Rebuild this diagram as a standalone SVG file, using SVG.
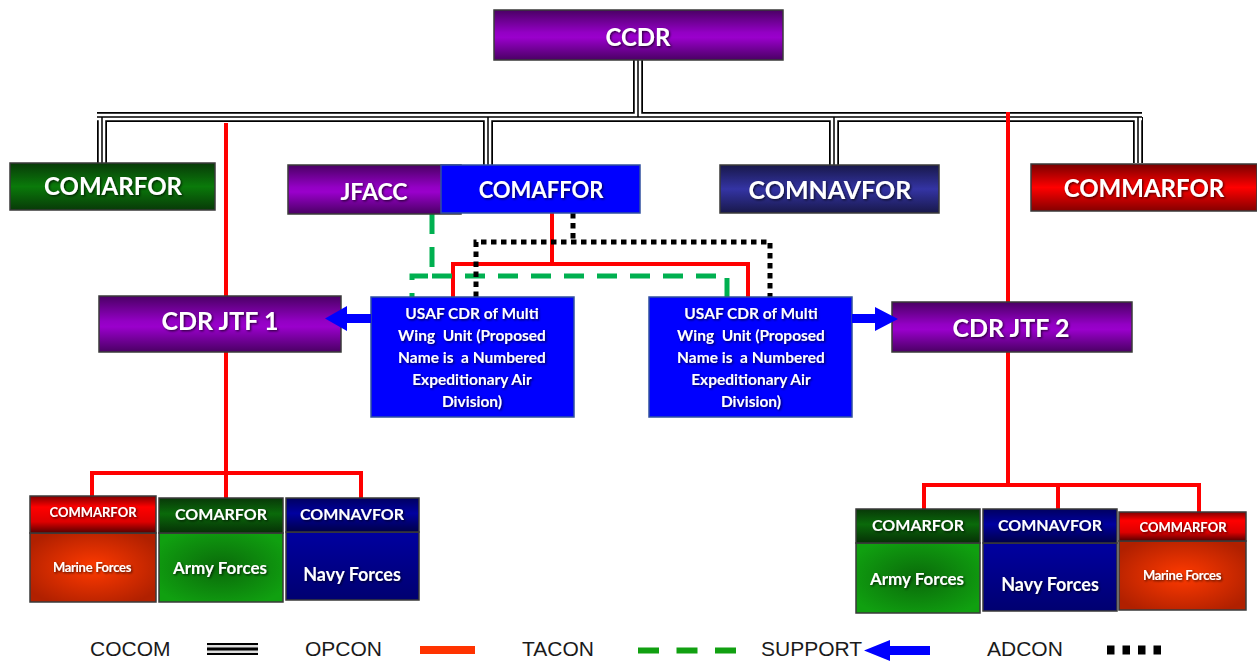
<svg xmlns="http://www.w3.org/2000/svg" xmlns:xlink="http://www.w3.org/1999/xlink" width="1257" height="662" viewBox="0 0 1257 662">
<defs>
<linearGradient id="gPurple" x1="0" y1="0" x2="0" y2="1">
<stop offset="0" stop-color="#4a0064"/><stop offset="0.45" stop-color="#9300c4"/><stop offset="0.55" stop-color="#9a00cc"/><stop offset="1" stop-color="#4a0064"/>
</linearGradient>
<linearGradient id="gGreen" x1="0" y1="0" x2="0" y2="1">
<stop offset="0" stop-color="#083a08"/><stop offset="0.5" stop-color="#0a7a0a"/><stop offset="1" stop-color="#083a08"/>
</linearGradient>
<linearGradient id="gNavy" x1="0" y1="0" x2="0" y2="1">
<stop offset="0" stop-color="#18184a"/><stop offset="0.5" stop-color="#3434a4"/><stop offset="1" stop-color="#18184a"/>
</linearGradient>
<linearGradient id="gRed" x1="0" y1="0" x2="0" y2="1">
<stop offset="0" stop-color="#780000"/><stop offset="0.5" stop-color="#ff0000"/><stop offset="1" stop-color="#840000"/>
</linearGradient>
<linearGradient id="hRed" x1="0" y1="0" x2="0" y2="1">
<stop offset="0" stop-color="#800000"/><stop offset="0.3" stop-color="#ff0000"/><stop offset="0.7" stop-color="#dd0000"/><stop offset="1" stop-color="#550000"/>
</linearGradient>
<linearGradient id="hGreen" x1="0" y1="0" x2="0" y2="1">
<stop offset="0" stop-color="#083808"/><stop offset="0.45" stop-color="#0a6a0a"/><stop offset="1" stop-color="#063006"/>
</linearGradient>
<linearGradient id="hNavy" x1="0" y1="0" x2="0" y2="1">
<stop offset="0" stop-color="#000060"/><stop offset="0.45" stop-color="#0000a0"/><stop offset="1" stop-color="#000048"/>
</linearGradient>
<radialGradient id="bRed" cx="0.5" cy="0.5" r="0.6">
<stop offset="0" stop-color="#ff3a00"/><stop offset="1" stop-color="#b02000"/>
</radialGradient>
<radialGradient id="bGreen" cx="0.5" cy="0.5" r="0.6">
<stop offset="0" stop-color="#0a6a0a"/><stop offset="1" stop-color="#10a010"/>
</radialGradient>
<linearGradient id="bNavy" x1="0" y1="0" x2="0" y2="1">
<stop offset="0" stop-color="#0000a0"/><stop offset="1" stop-color="#000070"/>
</linearGradient>
<filter id="ts" x="-10%" y="-30%" width="120%" height="160%">
<feDropShadow dx="1.2" dy="1.2" stdDeviation="0.8" flood-color="#000" flood-opacity="0.7"/>
</filter>
<path id="cocomPath" d="M97,117 H1142 M638,60 V117 M102,117 V163 M488,117 V165 M834,117 V165 M1138,117 V163"/>
</defs>
<style>
.box{stroke:#3a3a3a;stroke-width:1.5}
.blue{fill:#0000ff;stroke:#3050a0;stroke-width:1.5}
.t{font-family:Lato,"Open Sans",sans-serif;font-weight:700;fill:#fff;text-anchor:middle;filter:url(#ts)}
.pre{white-space:pre}
.c1{fill:none;stroke:#000;stroke-width:10}
.c2{fill:none;stroke:#fff;stroke-width:6.5}
.c3{fill:none;stroke:#000;stroke-width:1.5}
.opcon{fill:none;stroke:#ff0000;stroke-width:4}
.tacon{fill:none;stroke:#00b050;stroke-width:5;stroke-dasharray:20 13}
.adcon{fill:none;stroke:#000;stroke-width:5;stroke-dasharray:5.5 4.5}
.sup{fill:#0000ff}
.lg{font-family:"Liberation Sans",Arial,sans-serif;font-size:21px;fill:#1a1a1a}
</style>
<rect width="1257" height="662" fill="#fff"/>

<g id="connectors">
<use xlink:href="#cocomPath" class="c1"/>
<use xlink:href="#cocomPath" class="c2"/>
<use xlink:href="#cocomPath" class="c3"/>
<path class="opcon" d="M226,123 V473 M92,497 V473 H361 V500 M226,473 V498"/>
<path class="opcon" d="M1008,112 V485 M924,510 V485 H1199 V512 M1058,485 V510"/>
<path class="opcon" d="M552,213 V264 M453,297 V264 H748 V297"/>
<path class="tacon" d="M432,214 V276 H412 V297"/>
<path class="tacon" d="M432,276 H727 V297"/>
<path class="adcon" d="M573,213 V242 M476,297 V242 H770 V297"/>
</g>

<g id="ccdr"><rect class="box" x="494" y="10" width="289" height="50" fill="url(#gPurple)"/><text class="t" x="638" y="46" font-size="24">CCDR</text></g>
<g id="comarfor-top"><rect class="box" x="10" y="163" width="205" height="47" fill="url(#gGreen)"/><text class="t" x="113" y="195" font-size="24">COMARFOR</text></g>
<g id="jfacc"><rect class="box" x="288" y="165" width="173" height="49" fill="url(#gPurple)"/><text class="t" x="374" y="200" font-size="23">JFACC</text></g>
<g id="comaffor"><rect class="blue" x="441" y="165" width="199" height="48"/><text class="t" x="541" y="198" font-size="22">COMAFFOR</text></g>
<g id="comnavfor-top"><rect class="box" x="720" y="165" width="219" height="48" fill="url(#gNavy)"/><text class="t" x="830" y="199" font-size="25">COMNAVFOR</text></g>
<g id="commarfor-top"><rect class="box" x="1031" y="164" width="226" height="47" fill="url(#gRed)"/><text class="t" x="1144" y="197" font-size="24">COMMARFOR</text></g>

<g id="cdr-jtf1"><rect class="box" x="99" y="296" width="242" height="56" fill="url(#gPurple)"/><text class="t" x="220" y="330" font-size="25">CDR JTF 1</text></g>
<g id="cdr-jtf2"><rect class="box" x="892" y="302" width="240" height="50" fill="url(#gPurple)"/><text class="t" x="1011" y="337" font-size="25">CDR JTF 2</text></g>

<g id="usaf-left"><rect class="blue" x="371" y="297" width="203" height="120"/>
<text class="t pre" font-size="15.5" xml:space="preserve"><tspan x="472" y="319">USAF CDR of Multi</tspan><tspan x="472" y="341">Wing  Unit (Proposed</tspan><tspan x="472" y="363">Name is  a Numbered</tspan><tspan x="472" y="385">Expeditionary Air</tspan><tspan x="472" y="407">Division)</tspan></text></g>
<g id="usaf-right"><rect class="blue" x="649" y="297" width="203" height="120"/>
<text class="t pre" font-size="15.5" xml:space="preserve"><tspan x="751" y="319">USAF CDR of Multi</tspan><tspan x="751" y="341">Wing  Unit (Proposed</tspan><tspan x="751" y="363">Name is  a Numbered</tspan><tspan x="751" y="385">Expeditionary Air</tspan><tspan x="751" y="407">Division)</tspan></text></g>

<g id="marine-left"><rect class="box" x="30" y="533" width="126" height="69" fill="url(#bRed)"/><rect class="box" x="30" y="496" width="126" height="37" fill="url(#hRed)"/>
<text class="t" x="93" y="517" font-size="13">COMMARFOR</text><text class="t" x="92" y="572" font-size="13" letter-spacing="-0.3">Marine Forces</text></g>
<g id="army-left"><rect class="box" x="159" y="533" width="124" height="69" fill="url(#bGreen)"/><rect class="box" x="159" y="498" width="124" height="35" fill="url(#hGreen)"/>
<text class="t" x="221" y="520" font-size="16">COMARFOR</text><text class="t" x="220" y="574" font-size="17">Army Forces</text></g>
<g id="navy-left"><rect class="box" x="286" y="532" width="133" height="68" fill="url(#bNavy)"/><rect class="box" x="286" y="498" width="133" height="34" fill="url(#hNavy)"/>
<text class="t" x="352" y="520" font-size="16">COMNAVFOR</text><text class="t" x="352" y="581" font-size="18">Navy Forces</text></g>

<g id="army-right"><rect class="box" x="856" y="543" width="124" height="70" fill="url(#bGreen)"/><rect class="box" x="856" y="509" width="124" height="34" fill="url(#hGreen)"/>
<text class="t" x="918" y="531" font-size="16">COMARFOR</text><text class="t" x="917" y="585" font-size="17">Army Forces</text></g>
<g id="navy-right"><rect class="box" x="983" y="543" width="134" height="68" fill="url(#bNavy)"/><rect class="box" x="983" y="509" width="134" height="34" fill="url(#hNavy)"/>
<text class="t" x="1050" y="531" font-size="16">COMNAVFOR</text><text class="t" x="1050" y="591" font-size="18">Navy Forces</text></g>
<g id="marine-right"><rect class="box" x="1119" y="541" width="127" height="69" fill="url(#bRed)"/><rect class="box" x="1119" y="512" width="127" height="29" fill="url(#hRed)"/>
<text class="t" x="1183" y="532" font-size="13">COMMARFOR</text><text class="t" x="1182" y="580" font-size="13" letter-spacing="-0.3">Marine Forces</text></g>

<g id="support-connectors">
<polygon class="sup" points="371,314 347,314 347,306 325,318.5 347,331 347,323 371,323"/>
<polygon class="sup" points="852,314 875,314 875,307 898,319 875,331 875,323 852,323"/>
</g>

<g id="legend">
<text class="lg" x="90" y="656">COCOM</text>
<rect x="207" y="643" width="51" height="12" fill="#000"/><rect x="207" y="645" width="51" height="2.5" fill="#ddd"/><rect x="207" y="650.5" width="51" height="2.5" fill="#ddd"/>
<text class="lg" x="305" y="656">OPCON</text>
<rect x="420" y="646" width="55" height="8" fill="#ff3300"/>
<text class="lg" x="522" y="656">TACON</text>
<path d="M638,650.5 H737" stroke="#11a011" stroke-width="6" stroke-dasharray="21 17.5"/>
<text class="lg" x="761" y="656" font-size="20.5">SUPPORT</text>
<polygon class="sup" points="930,646 890,646 890,640 864,650.5 890,661 890,655 930,655"/>
<text class="lg" x="987" y="656">ADCON</text>
<path d="M1107,650 H1164" stroke="#000" stroke-width="9" stroke-dasharray="7.5 8"/>
</g>
</svg>
